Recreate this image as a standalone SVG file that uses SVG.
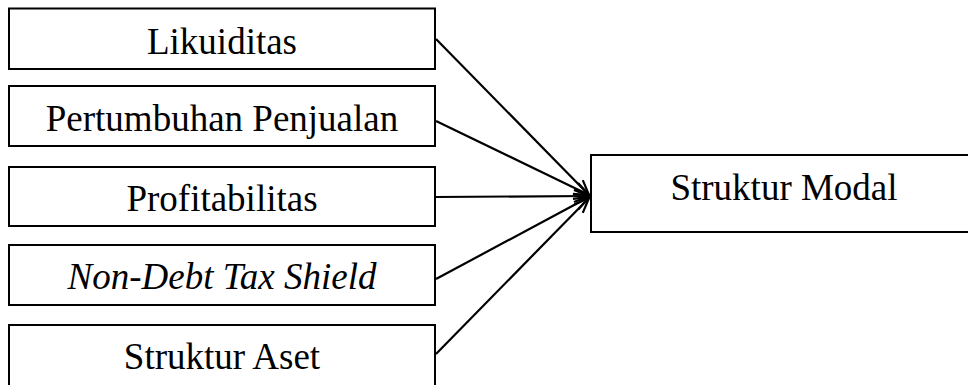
<svg xmlns="http://www.w3.org/2000/svg" width="968" height="385" viewBox="0 0 968 385">
<style>
.box{fill:#fff;stroke:#000;stroke-width:2}
.t{font-family:"Liberation Serif","Times New Roman",serif;font-size:37px;fill:#000;text-anchor:middle}
.c{stroke:#000;stroke-width:2.2;fill:none;marker-end:url(#ah)}
</style>
<defs>
<marker id="ah" markerUnits="userSpaceOnUse" markerWidth="20" markerHeight="16" refX="16" refY="7" orient="auto" viewBox="0 0 20 14">
<path d="M1,1 L16,7 L1,13" fill="none" stroke="#000" stroke-width="2.2"/>
</marker>
</defs>
<rect width="968" height="385" fill="#fff"/>
<g id="likuiditas"><rect class="box" x="9" y="8.5" width="426" height="60.5"/><text class="t" x="222" y="54">Likuiditas</text></g>
<g id="pertumbuhan"><rect class="box" x="9" y="86" width="426" height="60"/><text class="t" x="222" y="131">Pertumbuhan Penjualan</text></g>
<g id="profitabilitas"><rect class="box" x="9" y="167" width="426" height="59"/><text class="t" x="222" y="211">Profitabilitas</text></g>
<g id="ndts"><rect class="box" x="9" y="245" width="426" height="60"/><text class="t" x="222" y="289" font-style="italic">Non-Debt Tax Shield</text></g>
<g id="aset"><rect class="box" x="9" y="325" width="426" height="70"/><text class="t" x="222" y="369">Struktur Aset</text></g>
<g id="modal"><rect class="box" x="591" y="155" width="400" height="77"/><text class="t" x="784" y="200">Struktur Modal</text></g>
<g id="connectors">
<line class="c" x1="436" y1="39" x2="589" y2="195"/>
<line class="c" x1="436" y1="121" x2="589" y2="195"/>
<line class="c" x1="436" y1="197" x2="589" y2="196"/>
<line class="c" x1="436" y1="279" x2="589" y2="197"/>
<line class="c" x1="436" y1="354" x2="589" y2="198"/>
</g>
</svg>
